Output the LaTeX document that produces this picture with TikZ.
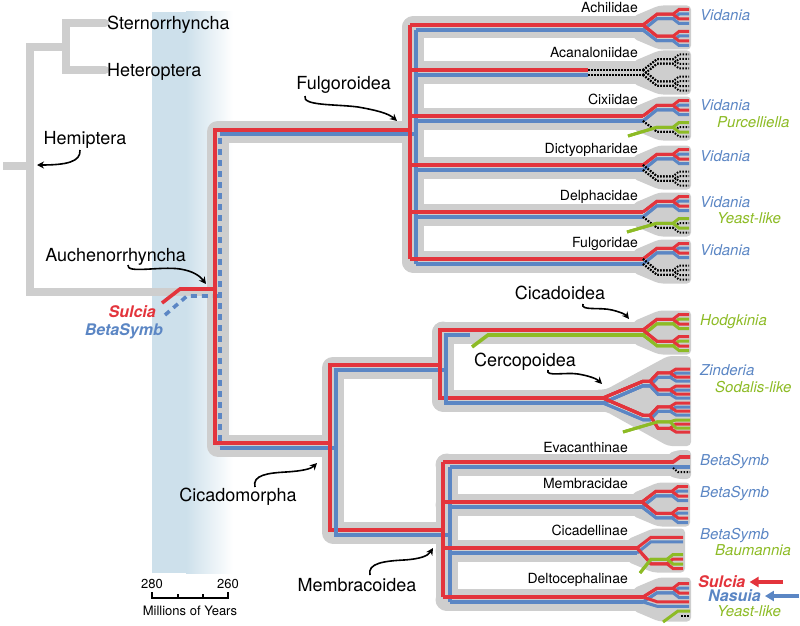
\documentclass[tikz,border=0pt]{standalone}
\usepackage{fontspec}
\setmainfont{TeX Gyre Heros}
\usepackage{tikz}
\usetikzlibrary{arrows.meta}
\definecolor{symred}{RGB}{227,52,60}
\definecolor{symblue}{RGB}{91,134,196}
\definecolor{symgreen}{RGB}{141,187,37}
\definecolor{tubegray}{RGB}{206,206,206}
\definecolor{bandblue}{RGB}{205,224,235}
\tikzstyle{tube} = [draw=tubegray, line width=22pt, line cap=round, line join=round]
\tikzstyle{hemi} = [draw=tubegray, line width=8pt]
\tikzstyle{redline} = [draw=symred, line width=3.6pt]
\tikzstyle{blueline} = [draw=symblue, line width=3.6pt]
\tikzstyle{greenline} = [draw=symgreen, line width=3.6pt]
\tikzstyle{lostline} = [draw=black, line width=2pt, dash pattern=on 1.5pt off 1.5pt]
\tikzstyle{rtip} = [draw=symred, line width=3pt]
\tikzstyle{btip} = [draw=symblue, line width=3pt]
\tikzstyle{gtip} = [draw=symgreen, line width=3pt]
\tikzstyle{dtip} = [draw=black, line width=2pt, dash pattern=on 1.5pt off 1.5pt]
\tikzstyle{clade} = [font=\fontsize{18}{20}\selectfont, inner sep=0pt]
\tikzstyle{family} = [font=\fontsize{14}{16}\selectfont, inner sep=0pt, anchor=base east]
\tikzstyle{symb} = [font=\fontsize{15}{17}\selectfont\itshape, inner sep=0pt, anchor=base west]
\tikzstyle{pointer} = [draw=black, line width=1.6pt, -{Stealth[length=7pt,width=7pt]}]
\newcommand{\tipfrom}[7]{\draw[#1] ({#2},{#3}) -- ({#4+14},{#5+(#6)}) -- ({#4+30},{#5+(#6)}) -- ({#4+36},{#5+(#7)}) -- ({#4+46},{#5+(#7)});}
\newcommand{\tip}[6]{\tipfrom{#1}{#2}{#3+(#4)}{#2}{#3}{#5}{#6}}
\newcommand{\branch}[5]{\foreach \s in {-4.75,4.75}{%
    \tip{#5}{#1}{#2}{2.5}{#3+2.25}{#3+\s+2.25}
    \tip{#4}{#1}{#2}{-2.5}{#3-2.25}{#3+\s-2.25}}}
\newcommand{\fan}[4]{\branch{#1}{#2}{-11}{#3}{#4}\branch{#1}{#2}{11}{#3}{#4}}
\newcommand{\greenbranch}[5]{\foreach \s in {-4.75,4.75}{%
    \tip{dtip}{#1}{#2}{2.5}{#3+2.25}{#3+\s+2.25}
    \tipfrom{gtip}{#4}{#5}{#1}{#2}{#3-2.25}{#3+\s-2.25}}}
\newcommand{\grayfan}[2]{\fill[tubegray, rounded corners=4pt] ({#1-10},{#2-11}) -- ({#1+16},{#2-22}) -- ({#1+48},{#2-22}) -- ({#1+48},{#2+22}) -- ({#1+16},{#2+22}) -- ({#1-10},{#2+11}) -- cycle;}
\newcommand{\cercoline}[6]{\draw[#1] ({#2},{#3}) -- (643,{400.5+(#4)}) -- (650,{400.5+(#4)}) -- (658,{400.5+(#5)}) -- (670,{400.5+(#5)}) -- (676,{400.5+(#6)}) -- (690,{400.5+(#6)});}

\begin{document}
\begin{tikzpicture}[x=1pt,y=-1pt]
    \useasboundingbox (0,0) rectangle (800,626);
    \fill[bandblue] (152,12) rectangle (186,573);
    \shade[left color=bandblue, right color=white] (186,12) rectangle (233,573);

    \draw[hemi, line cap=round] (105,23) -- (66,23) -- (66,70) -- (105,70);
    \draw[hemi] (66,47) -- (30,47) -- (30,292) -- (214,292);
    \draw[hemi] (3,166) -- (30,166);

    \draw[tube] (413,132) -- (217.5,132) -- (217.5,445.5) -- (333,445.5);
    \draw[tube] (413,27.5) -- (413,261.5);
    \foreach \cy in {27.5,72.5,118.5,167.5,214.5,261.5}{
        \draw[tube] (413,\cy) -- (643,\cy);
        \grayfan{643}{\cy}
    }
    \draw[tube] (443,367.5) -- (333,367.5) -- (333,532.5) -- (446.5,532.5);
    \draw[tube] (443,332.5) -- (443,400.5);
    \draw[tube] (443,332.5) -- (643,332.5);
    \grayfan{643}{332.5}
    \draw[tube] (443,400.5) -- (603,400.5);
    \fill[tubegray, rounded corners=4pt] (595,389.5) -- (606,389.5) -- (668,356) -- (691,356) -- (691,446) -- (668,446) -- (606,411.5) -- (595,411.5) -- cycle;
    \draw[tube] (446.5,464.5) -- (446.5,599.5);
    \draw[tube] (446.5,464.5) -- (680,464.5);
    \fill[tubegray, rounded corners=4pt] (668,453.5) -- (678,450) -- (691,450) -- (691,479) -- (678,479) -- (668,475.5) -- cycle;
    \foreach \cy/\xs in {504.5/642,550.5/637,599.5/643}{
        \draw[tube] (446.5,\cy) -- (\xs,\cy);
        \grayfan{\xs}{\cy}
    }

    \draw[redline] (162,303) -- (180,289) -- (215,289);
    \draw[blueline, dash pattern=on 6pt off 5pt] (165,315) -- (187,296) -- (220,296);
    \draw[redline] (410,130) -- (215,130) -- (215,443) -- (330,443);
    \draw[blueline] (416,134) -- (220,134);
    \draw[blueline, dash pattern=on 6pt off 5pt] (220,138) -- (220,446);
    \draw[blueline] (220,448) -- (336,448);

    \draw[redline] (410,25) -- (410,259);
    \draw[blueline] (416,30) -- (416,264);
    \foreach \cy in {27.5,118.5,167.5,214.5,261.5}{
        \draw[redline] (410,\cy-2.5) -- (643,\cy-2.5);
        \draw[blueline] (416,\cy+2.5) -- (643,\cy+2.5);
    }
    \draw[redline] (410,70) -- (588,70);
    \draw[blueline] (416,75) -- (588,75);
    \draw[lostline] (588,70) -- (643,70);
    \draw[lostline] (588,75) -- (643,75);

    \draw[redline] (440,365) -- (330,365) -- (330,530) -- (443,530);
    \draw[blueline] (446,370) -- (336,370) -- (336,535) -- (450,535);
    \draw[redline] (643,330) -- (440,330) -- (440,398) -- (603,398);
    \draw[blueline] (470,335) -- (446,335) -- (446,403) -- (603,403);
    \draw[greenline] (472,347) -- (488,335) -- (643,335);

    \draw[redline] (443,462) -- (443,597);
    \draw[blueline] (450,467) -- (450,602);
    \draw[redline] (443,462) -- (673,462) -- (680,457) -- (690,457);
    \draw[blueline] (450,467) -- (690,467);
    \draw[dtip] (673,468) -- (678,472) -- (690,472);
    \foreach \cy/\xs in {504.5/642,550.5/637,599.5/643}{
        \draw[redline] (443,\cy-2.5) -- (\xs,\cy-2.5);
        \draw[blueline] (450,\cy+2.5) -- (\xs,\cy+2.5);
    }

    \fan{643}{27.5}{rtip}{btip}
    \fan{643}{72.5}{dtip}{dtip}
    \branch{643}{118.5}{-11}{rtip}{btip}
    \greenbranch{643}{118.5}{11}{628}{136}
    \branch{643}{167.5}{-11}{rtip}{btip}
    \branch{643}{167.5}{11}{dtip}{dtip}
    \branch{643}{214.5}{-11}{rtip}{btip}
    \greenbranch{643}{214.5}{11}{627}{232}
    \branch{643}{261.5}{-11}{rtip}{btip}
    \branch{643}{261.5}{11}{dtip}{dtip}

    \fan{643}{332.5}{rtip}{gtip}
    \foreach \b in {-8.5,8.5}{
        \foreach \t in {-4,4}{
            \cercoline{btip}{603}{403}{-17+2.25}{-17+\b+2.25}{-17+\b+\t+2}
            \cercoline{rtip}{603}{398}{-17-2.25}{-17+\b-2.25}{-17+\b+\t-2}
        }
    }
    \foreach \t in {-4,4}{
        \cercoline{btip}{603}{403}{17+2.25}{17-8.5+2.25}{17-8.5+\t+2}
        \cercoline{rtip}{603}{398}{17-2.25}{17-8.5-2.25}{17-8.5+\t-2}
        \cercoline{rtip}{603}{398}{17-2.25}{17+8.5+2.25}{17+8.5+\t+2}
        \draw[gtip] (623,432) -- (658,421.75) -- (670,421.75) -- (676,{417.5+8.5+\t-2}) -- (690,{417.5+8.5+\t-2});
    }

    \fan{642}{504.5}{rtip}{btip}
    \tip{btip}{637}{550.5}{2.5}{-11+2.25}{-11+2.25}
    \tip{rtip}{637}{550.5}{-2.5}{-11-2.25}{-11-2.25}
    \foreach \s in {-4.75,4.75}{
        \tip{rtip}{637}{550.5}{-2.5}{11+2.25}{11+\s+2.25}
        \tipfrom{gtip}{640}{573}{637}{550.5}{11-2.25}{11+\s-2.25}
    }
    \branch{643}{599.5}{-9}{rtip}{btip}
    \tip{btip}{643}{599.5}{2.5}{4.5+2.25}{4.5+2.25}
    \tip{rtip}{643}{599.5}{-2.5}{4.5-2.25}{4.5-2.25}
    \draw[gtip] (663,622) -- (678,611) -- (690,611);
    \draw[dtip] (681,615.5) -- (690,615.5);

    \node[clade, anchor=base west] (stern) at (107,29.5) {Sternorrhyncha};
    \node[clade, anchor=base west] (hetero) at (107,76.5) {Heteroptera};
    \node[clade, anchor=base] (hemip) at (85,144.5) {Hemiptera};
    \node[clade, anchor=base east] (auchen) at (186,261.5) {Auchenorrhyncha};
    \node[clade, anchor=base east] (fulgo) at (391,89.5) {Fulgoroidea};
    \node[clade, anchor=base] (cicado) at (560,299.5) {Cicadoidea};
    \node[clade, anchor=base] (cerco) at (525,366.5) {Cercopoidea};
    \node[clade, anchor=base] (cicmorph) at (238,501.5) {Cicadomorpha};
    \node[clade, anchor=base] (membra) at (357,591.5) {Membracoidea};

    \coordinate (hemitip) at (37,165);
    \coordinate (auchtip) at (206,284);
    \coordinate (fulgotip) at (397,121);
    \coordinate (cicadotip) at (629,319);
    \coordinate (cercotip) at (602,384);
    \coordinate (cicmorphtip) at (317,463);
    \coordinate (membratip) at (433,548);
    \draw[pointer] (80,150) .. controls (81,162) and (66,165) .. (hemitip);
    \draw[pointer] (128,265) .. controls (126,274) and (160,266) .. (180,269) .. controls (193,271) and (200,276) .. (auchtip);
    \draw[pointer] (305,96) .. controls (302,106) and (335,104) .. (358,107) .. controls (375,110) and (388,113) .. (fulgotip);
    \draw[pointer] (583,304) .. controls (580,311) and (600,307) .. (612,310) .. controls (620,312) and (625,314) .. (cicadotip);
    \draw[pointer] (548,370) .. controls (545,377) and (565,372) .. (578,374) .. controls (590,376) and (597,379) .. (cercotip);
    \draw[pointer] (255,487) .. controls (252,475) and (268,473) .. (286,472) .. controls (302,471) and (311,469) .. (cicmorphtip);
    \draw[pointer] (370,575) .. controls (367,563) and (385,561) .. (404,560) .. controls (420,559) and (428,556) .. (membratip);

    \foreach \cy/\fam in {27.5/Achilidae,72.5/Acanaloniidae,118.5/Cixiidae,167.5/Dictyopharidae,214.5/Delphacidae,261.5/Fulgoridae}{
        \node[family] (\fam) at (638,\cy-14.5) {\fam};
    }
    \node[family] (evac) at (628,452) {Evacanthinae};
    \node[family] (membr) at (628,488) {Membracidae};
    \node[family] (cicad) at (628,535) {Cicadellinae};
    \node[family] (delto) at (628,583) {Deltocephalinae};

    \node[symb, text=symblue] (vid1) at (700,20.5) {Vidania};
    \node[symb, text=symblue] (vid2) at (700,110.5) {Vidania};
    \node[symb, text=symgreen] (purc) at (717,127.5) {Purcelliella};
    \node[symb, text=symblue] (vid3) at (700,161.5) {Vidania};
    \node[symb, text=symblue] (vid4) at (700,207.5) {Vidania};
    \node[symb, text=symgreen] (yeast1) at (717,223.5) {Yeast-like};
    \node[symb, text=symblue] (vid5) at (700,255.5) {Vidania};
    \node[symb, text=symgreen] (hodg) at (700,325.5) {Hodgkinia};
    \node[symb, text=symblue] (zind) at (700,375.5) {Zinderia};
    \node[symb, text=symgreen] (soda) at (715,392.5) {Sodalis-like};
    \node[symb, text=symblue] (beta1) at (700,465.5) {BetaSymb};
    \node[symb, text=symblue] (beta2) at (700,497.5) {BetaSymb};
    \node[symb, text=symblue] (beta3) at (700,539.5) {BetaSymb};
    \node[symb, text=symgreen] (baum) at (715,555.5) {Baumannia};
    \node[symb, text=symred, font=\fontsize{16}{18}\selectfont\bfseries\itshape] (sulc) at (698,587.5) {Sulcia};
    \node[symb, text=symblue, font=\fontsize{16}{18}\selectfont\bfseries\itshape] (nasu) at (708,601.5) {Nasuia};
    \node[symb, text=symgreen] (yeast2) at (717,616.5) {Yeast-like};
    \coordinate (sulcstart) at (783,582);
    \coordinate (nasustart) at (799,596);
    \draw[draw=symred, line width=4pt, -{Triangle[length=9pt,width=10pt]}] (sulcstart) -- ([xshift=4pt]sulc.east |- sulcstart);
    \draw[draw=symblue, line width=4pt, -{Triangle[length=9pt,width=10pt]}] (nasustart) -- ([xshift=4pt]nasu.east |- nasustart);

    \node[symb, anchor=base east, text=symred, font=\fontsize{16}{18}\selectfont\bfseries\itshape] (sulcl) at (156,317.5) {Sulcia};
    \node[symb, anchor=base east, text=symblue, font=\fontsize{16}{18}\selectfont\bfseries\itshape] (betal) at (163,335.5) {BetaSymb};

    \draw[line width=1.2pt] (152,592) -- (152,598) -- (228,598) -- (228,592);
    \foreach \x in {178,203}{
        \draw[line width=1.2pt] (\x,598) -- (\x,593.5);
    }
    \node[font=\fontsize{13}{15}\selectfont, inner sep=0pt, anchor=base] (y280) at (152,588) {280};
    \node[font=\fontsize{13}{15}\selectfont, inner sep=0pt, anchor=base] (y260) at (228,588) {260};
    \node[font=\fontsize{13}{15}\selectfont, inner sep=0pt, anchor=base] (myears) at (190,615) {Millions of Years};
\end{tikzpicture}
\end{document}
